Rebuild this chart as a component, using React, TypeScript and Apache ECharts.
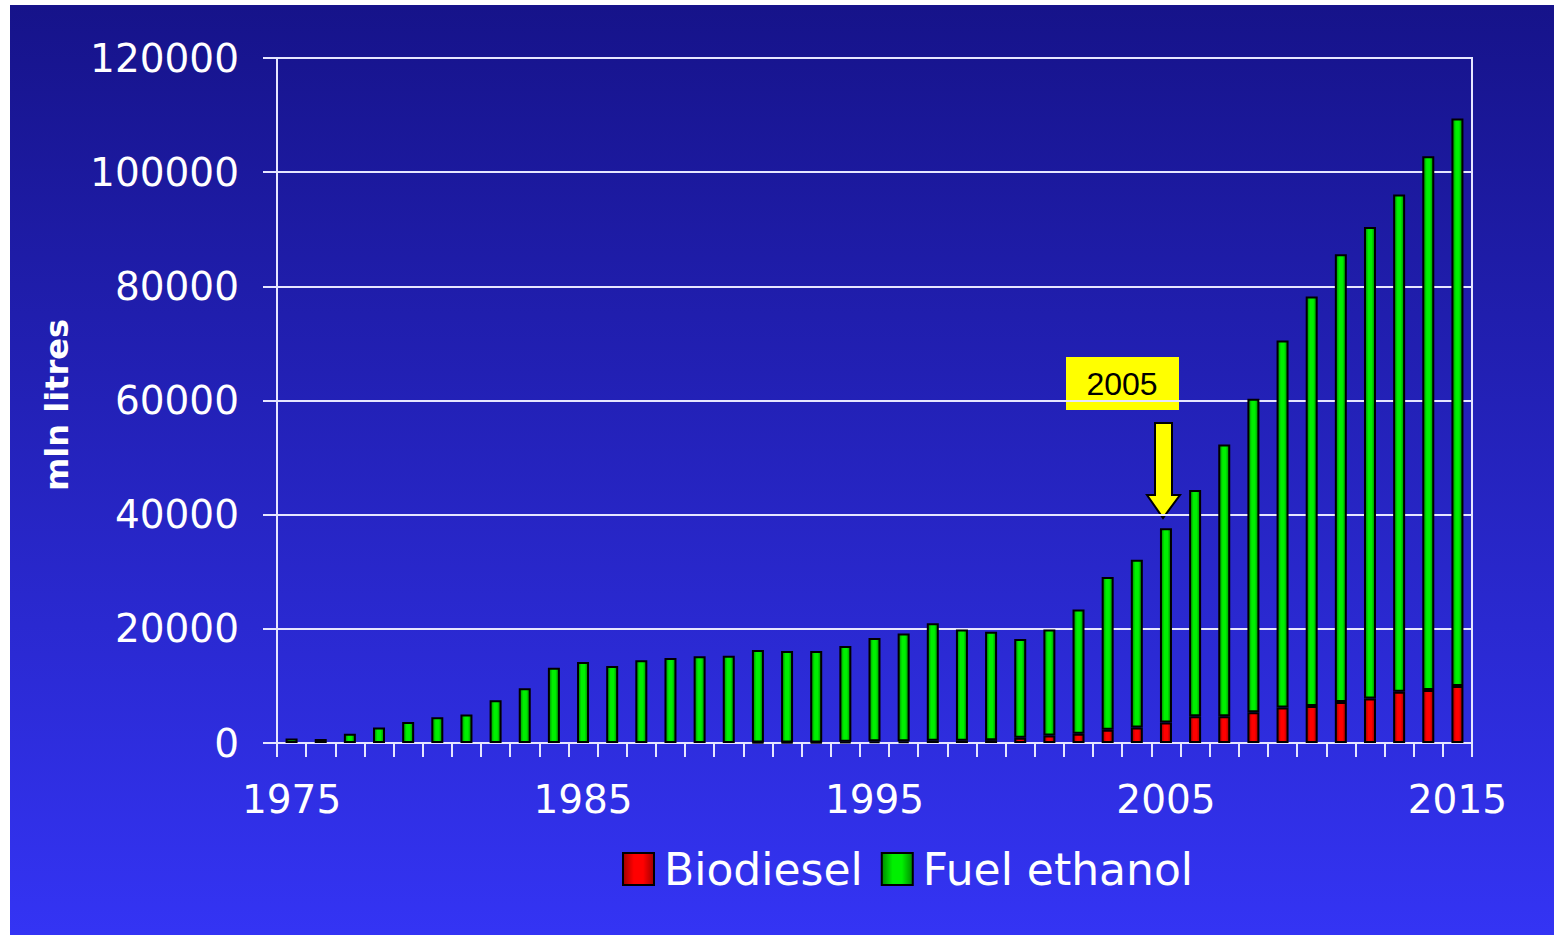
import React, { useEffect, useRef } from "react";
import * as echarts from "echarts";

const years: string[] = [
  "1975","1976","1977","1978","1979","1980","1981","1982","1983","1984",
  "1985","1986","1987","1988","1989","1990","1991","1992","1993","1994",
  "1995","1996","1997","1998","1999","2000","2001","2002","2003","2004",
  "2005","2006","2007","2008","2009","2010","2011","2012","2013","2014","2015",
];

const biodiesel: (number | null)[] = [
  null, null, null, null, null, null, null, null, null, null,
  null, null, null, null, null, null, 100, 100, 100, 200,
  300, 300, 400, 400, 500, 900, 1300, 1600, 2300, 2700,
  3600, 4700, 4700, 5400, 6200, 6500, 7200, 7800, 9000, 9300, 10000,
];

const fuelEthanol: number[] = [
  800, 700, 1600, 2700, 3700, 4500, 5000, 7500, 9600, 13200,
  14200, 13500, 14500, 14900, 15200, 15300, 16200, 16000, 16000, 16800,
  18100, 18900, 20600, 19500, 19000, 17300, 18600, 21800, 26800, 29400,
  34000, 39600, 47600, 54900, 64300, 71700, 78400, 82600, 87100, 93500, 99400,
];

const yTicks = { min: 0, max: 120000, interval: 20000 };

const FONT = "'DejaVu Sans', Verdana, sans-serif";

function hGrad(edge: string, mid: string) {
  return new echarts.graphic.LinearGradient(0, 0, 1, 0, [
    { offset: 0, color: edge },
    { offset: 0.35, color: mid },
    { offset: 0.65, color: mid },
    { offset: 1, color: edge },
  ]);
}

export default function App() {
  const ref = useRef<HTMLDivElement>(null);

  useEffect(() => {
    document.body.style.margin = "0";
    if (!ref.current) return;
    const chart = echarts.init(ref.current, undefined, { renderer: "svg" });
    const greenFill = hGrad("#008a00", "#00f000");
    const redFill = hGrad("#a00000", "#ff0000");

    chart.setOption({
      animation: false,
      backgroundColor: "#ffffff",
      grid: {
        left: 277,
        right: 82,
        top: 58,
        bottom: 192,
        show: true,
        borderColor: "#e6e6ff",
        borderWidth: 2,
        backgroundColor: "transparent",
      },
      legend: {
        left: 617,
        top: 842,
        itemWidth: 31,
        itemHeight: 32,
        itemGap: 18,
        icon: "rect",
        textStyle: { color: "#ffffff", fontSize: 44, fontFamily: FONT, padding: [0, 0, 0, 5] },
        data: ["Biodiesel", "Fuel ethanol"],
      },
      xAxis: {
        type: "category",
        data: years,
        boundaryGap: true,
        axisLine: { show: true, lineStyle: { color: "#e6e6ff", width: 2 } },
        axisTick: { show: true, interval: 0, length: 14, lineStyle: { color: "#e6e6ff", width: 2 } },
        axisLabel: {
          interval: 9,
          color: "#ffffff",
          fontSize: 39,
          fontFamily: FONT,
          margin: 37,
        },
        splitLine: { show: false },
      },
      yAxis: {
        type: "value",
        min: yTicks.min,
        max: yTicks.max,
        interval: yTicks.interval,
        axisLine: { show: true, lineStyle: { color: "#e6e6ff", width: 2 } },
        axisTick: { show: true, inside: false, length: 14, lineStyle: { color: "#e6e6ff", width: 2 } },
        axisLabel: {
          color: "#ffffff",
          fontSize: 39,
          fontFamily: FONT,
          margin: 38,
          formatter: (v: number) => String(v),
        },
        splitLine: { show: true, lineStyle: { color: "#e6e6ff", width: 2 } },
      },
      series: [
        {
          name: "Biodiesel",
          type: "bar",
          stack: "total",
          barWidth: 12,
          data: biodiesel,
          itemStyle: { color: redFill, borderColor: "#000000", borderWidth: 2 },
        },
        {
          name: "Fuel ethanol",
          type: "bar",
          stack: "total",
          barWidth: 12,
          data: fuelEthanol,
          itemStyle: { color: greenFill, borderColor: "#000000", borderWidth: 2 },
        },
      ],
      graphic: [
        {
          type: "rect",
          z: -100,
          shape: { x: 10, y: 5, width: 1544, height: 930 },
          style: {
            fill: new echarts.graphic.LinearGradient(0, 0, 0, 1, [
              { offset: 0, color: "#16138a" },
              { offset: 1, color: "#3434f4" },
            ]),
          },
          silent: true,
        },
        {
          type: "text",
          x: 57,
          y: 405,
          rotation: Math.PI / 2,
          style: {
            text: "mln litres",
            fill: "#ffffff",
            font: `bold 32px ${FONT}`,
            align: "center",
            verticalAlign: "middle",
          },
        },
        {
          type: "rect",
          shape: { x: 1066, y: 357, width: 113, height: 53 },
          style: { fill: "#ffff00" },
        },
        {
          type: "text",
          x: 1122,
          y: 384,
          style: {
            text: "2005",
            fill: "#000000",
            font: "32px 'Liberation Sans', Arial, sans-serif",
            align: "center",
            verticalAlign: "middle",
          },
        },
        {
          type: "polygon",
          shape: {
            points: [
              [1155, 423], [1172, 423], [1172, 495], [1180, 495],
              [1163, 518], [1147, 495], [1155, 495],
            ],
          },
          style: { fill: "#ffff00", stroke: "#000000", lineWidth: 2 },
        },
      ],
    });
    return () => chart.dispose();
  }, []);

  return <div ref={ref} style={{ width: 1554, height: 935 }} />;
}
